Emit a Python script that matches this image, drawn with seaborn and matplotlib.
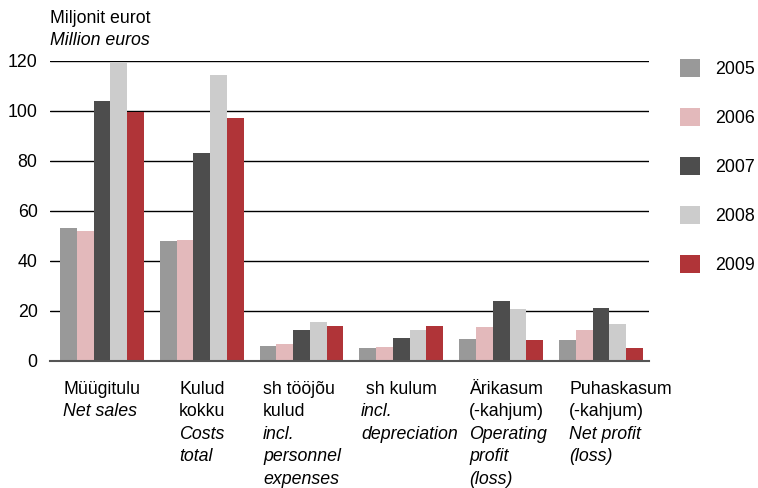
import pandas as pd
import seaborn as sns
import matplotlib.pyplot as plt

# andmed (miljonit eurot)
years = ['2005', '2006', '2007', '2008', '2009']
categories = ['Müügitulu', 'Kulud kokku', 'sh tööjõu kulud', 'sh kulum',
              'Ärikasum (-kahjum)', 'Puhaskasum (-kahjum)']
v2005 = [53.0, 47.8, 5.9, 5.1, 8.7, 8.3]
v2006 = [51.8, 48.2, 6.7, 5.5, 13.5, 12.3]
v2007 = [103.9, 83.0, 12.3, 9.1, 23.9, 21.1]
v2008 = [119.4, 114.2, 15.5, 12.3, 20.7, 14.7]
v2009 = [99.4, 97.0, 13.9, 13.9, 8.3, 5.1]
colors = ['#999999', '#e3b9bb', '#4d4d4d', '#cccccc', '#b03438']

# x-telje sildid: eesti keel (tavaline) + inglise keel (kaldkiri)
label_et = [['Müügitulu'], ['Kulud', 'kokku'], ['sh tööjõu', 'kulud'], [' sh kulum'],
            ['Ärikasum', '(-kahjum)'], ['Puhaskasum', '(-kahjum)']]
label_en = [['Net sales'], ['Costs', 'total'], ['incl.', 'personnel', 'expenses'],
            ['incl.', 'depreciation'], ['Operating', 'profit', '(loss)'],
            ['Net profit', '(loss)']]
label_shift = [-0.39, -0.227, -0.386, -0.404, -0.322, -0.32]

rows = []
for y, vals in zip(years, [v2005, v2006, v2007, v2008, v2009]):
    for c, v in zip(categories, vals):
        rows.append({'cat': c, 'year': y, 'value': v})
df = pd.DataFrame(rows)

sns.set_style('white')
plt.rcParams['font.family'] = ['Liberation Sans', 'DejaVu Sans']
plt.rcParams['text.color'] = 'black'
plt.rcParams['ytick.color'] = 'black'
fs = 12.8

fig = plt.figure(figsize=(7.58, 4.88), dpi=100)
ax = fig.add_axes([0.066, 0.261, 0.790, 0.615])
sns.barplot(data=df, x='cat', y='value', hue='year', palette=colors,
            width=0.84, gap=0, saturation=1, ax=ax, edgecolor='none')

ax.set_ylim(0, 120)
ax.set_xlim(-0.52, 5.48)
ax.set_yticks(range(0, 121, 20))
ax.yaxis.grid(True, color='black', linewidth=1)
ax.set_axisbelow(True)
for s in ['top', 'right', 'left']:
    ax.spines[s].set_visible(False)
ax.spines['bottom'].set_color('#555555')
ax.spines['bottom'].set_linewidth(1.5)
ax.tick_params(axis='y', length=0, labelsize=fs, pad=9, labelcolor='black')
ax.set_xticks(range(len(categories)))
ax.set_xticklabels([])
ax.tick_params(axis='x', length=0)
ax.set_xlabel('')
ax.set_ylabel('')

line_h = 16.2
for i in range(len(categories)):
    k = 0
    for ln in label_et[i]:
        ax.annotate(ln, xy=(i + label_shift[i], 0), xycoords=('data', 'axes fraction'),
                    xytext=(0, -14.5 - k * line_h), textcoords='offset points',
                    ha='left', va='top', fontsize=fs, annotation_clip=False)
        k += 1
    for ln in label_en[i]:
        ax.annotate(ln, xy=(i + label_shift[i], 0), xycoords=('data', 'axes fraction'),
                    xytext=(0, -14.5 - k * line_h), textcoords='offset points',
                    ha='left', va='top', fontsize=fs, style='italic',
                    annotation_clip=False)
        k += 1

fig.text(0.066, 0.962, 'Miljonit eurot', fontsize=fs, va='center')
fig.text(0.066, 0.916, 'Million euros', fontsize=fs, va='center', style='italic')

sns.move_legend(ax, 'upper left', bbox_to_anchor=(0.885, 0.897),
                bbox_transform=fig.transFigure, frameon=False, title=None,
                fontsize=fs, handlelength=1.15, handleheight=1.15,
                labelspacing=1.7, handletextpad=0.85, borderpad=0)

fig.savefig('out.png', dpi=100)
